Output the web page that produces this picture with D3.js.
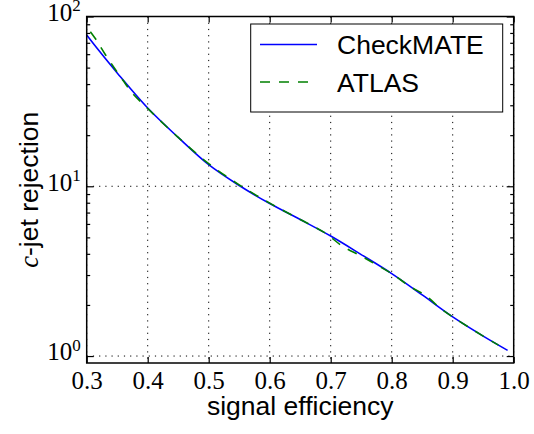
<!DOCTYPE html>
<html>
<head>
<meta charset="utf-8">
<script src="https://cdn.jsdelivr.net/npm/d3@7"></script>
<style>
  html, body { margin: 0; padding: 0; background: #fff; }
  svg { display: block; }
</style>
</head>
<body>
<svg id="chart" width="534" height="434"></svg>
<script>
// c-jet rejection versus signal efficiency for two taggers
const effCheckmate = [0.30, 0.32, 0.35, 0.40, 0.45, 0.50, 0.55, 0.60, 0.65, 0.70, 0.75, 0.80, 0.85, 0.90, 0.95, 0.99];
const rejCheckmate = [77.8, 63.0, 46.5, 28.9, 19.4, 13.4, 10.1, 7.91, 6.37, 5.09, 3.96, 3.06, 2.29, 1.70, 1.31, 1.08];

const effAtlas = [0.306, 0.315, 0.331, 0.36, 0.375, 0.40, 0.45, 0.50, 0.55, 0.60, 0.65, 0.69, 0.72, 0.75, 0.775, 0.80, 0.83, 0.855, 0.88, 0.90, 0.95, 0.975];
const rejAtlas = [81.4, 73.4, 59.3, 41.8, 35.3, 28.7, 19.4, 13.6, 10.2, 7.96, 6.37, 5.33, 4.42, 3.88, 3.45, 3.06, 2.57, 2.28, 1.91, 1.70, 1.31, 1.16];

const xTicks = [0.3, 0.4, 0.5, 0.6, 0.7, 0.8, 0.9, 1.0];
const yTicks = [1, 10, 100];
const yMinorTicks = [2, 3, 4, 5, 6, 7, 8, 9, 20, 30, 40, 50, 60, 70, 80, 90];

const seriesNames = ["CheckMATE", "ATLAS"];
const seriesColors = ["#0000ff", "#008000"];

const W = 534, H = 434;
const margin = { left: 86.7, right: 20.3, top: 16.5, bottom: 71 };
const iw = W - margin.left - margin.right;
const ih = H - margin.top - margin.bottom;

const svg = d3.select("#chart");
const g = svg.append("g").attr("transform", `translate(${margin.left},${margin.top})`);

const x = d3.scaleLinear().domain([0.3, 1.0]).range([0, iw]);
const y = d3.scaleLog().domain([0.91, 100]).range([ih, 0]);

const serif = "'Liberation Serif', 'Times New Roman', serif";
const sans = "'Liberation Sans', Arial, Helvetica, sans-serif";

// dotted grid at major ticks
const grid = g.append("g").attr("stroke", "#000").attr("stroke-width", 1)
  .attr("stroke-dasharray", "1.2,5").attr("fill", "none");
xTicks.forEach(t => grid.append("line")
  .attr("x1", x(t)).attr("x2", x(t)).attr("y1", 0).attr("y2", ih));
yTicks.forEach(t => grid.append("line")
  .attr("x1", 0).attr("x2", iw).attr("y1", y(t)).attr("y2", y(t)));

// curves
const series = [
  effCheckmate.map((e, i) => ({ e, r: rejCheckmate[i] })),
  effAtlas.map((e, i) => ({ e, r: rejAtlas[i] }))
];
const line = d3.line().x(d => x(d.e)).y(d => y(d.r)).curve(d3.curveCatmullRom.alpha(0.5));

g.append("path").datum(series[0])
  .attr("fill", "none").attr("stroke", seriesColors[0]).attr("stroke-width", 1.6)
  .attr("d", line);
g.append("path").datum(series[1])
  .attr("fill", "none").attr("stroke", seriesColors[1]).attr("stroke-width", 1.6)
  .attr("stroke-dasharray", "10,9")
  .attr("d", line);

// axes: ticks pointing inward on all four sides
function styleAxis(sel) {
  sel.select(".domain").remove();
  sel.selectAll(".tick line").attr("stroke", "#000").attr("stroke-width", 1.2);
}

const xAxisB = g.append("g").attr("transform", `translate(0,${ih})`)
  .call(d3.axisBottom(x).tickValues(xTicks).tickSizeInner(-6).tickSizeOuter(0)
    .tickPadding(8).tickFormat(d3.format(".1f")));
styleAxis(xAxisB);
xAxisB.selectAll(".tick text").attr("font-family", serif).attr("font-size", 25).attr("fill", "#000");

const xAxisT = g.append("g")
  .call(d3.axisTop(x).tickValues(xTicks).tickSizeInner(-6).tickSizeOuter(0).tickFormat(""));
styleAxis(xAxisT);

const yAxisL = g.append("g")
  .call(d3.axisLeft(y).tickValues(yTicks).tickSizeInner(-7).tickSizeOuter(0).tickPadding(6).tickFormat(""));
styleAxis(yAxisL);
yAxisL.selectAll(".tick text").each(function(d) {
  const t = d3.select(this).attr("font-family", serif).attr("fill", "#000").attr("dy", "0.38em");
  t.append("tspan").attr("font-size", 25).text("10");
  t.append("tspan").attr("font-size", 17).attr("dy", "-0.56em").text(Math.round(Math.log10(d)));
});

const yAxisLm = g.append("g")
  .call(d3.axisLeft(y).tickValues(yMinorTicks).tickSizeInner(-3.5).tickSizeOuter(0).tickFormat(""));
styleAxis(yAxisLm);

const yAxisR = g.append("g").attr("transform", `translate(${iw},0)`)
  .call(d3.axisRight(y).tickValues(yTicks).tickSizeInner(-7).tickSizeOuter(0).tickFormat(""));
styleAxis(yAxisR);
const yAxisRm = g.append("g").attr("transform", `translate(${iw},0)`)
  .call(d3.axisRight(y).tickValues(yMinorTicks).tickSizeInner(-3.5).tickSizeOuter(0).tickFormat(""));
styleAxis(yAxisRm);

// frame
g.append("rect").attr("x", 0).attr("y", 0).attr("width", iw).attr("height", ih)
  .attr("fill", "none").attr("stroke", "#000").attr("stroke-width", 1.5);

// axis labels
g.append("text")
  .attr("x", iw / 2).attr("y", ih + 52)
  .attr("text-anchor", "middle")
  .attr("font-family", sans).attr("font-size", 26.5).attr("fill", "#000")
  .text("signal efficiency");

const yl = svg.append("text")
  .attr("transform", `translate(38,${margin.top + ih / 2}) rotate(-90)`)
  .attr("text-anchor", "middle")
  .attr("font-family", sans).attr("font-size", 26.5).attr("fill", "#000");
yl.append("tspan").attr("font-family", serif).attr("font-style", "italic").text("c");
yl.append("tspan").text("-jet rejection");

// legend
const lg = svg.append("g");
lg.append("rect").attr("x", 250.7).attr("y", 24).attr("width", 252).attr("height", 88)
  .attr("fill", "#fff").attr("stroke", "#000").attr("stroke-width", 1);
seriesNames.forEach((name, i) => {
  const cy = 44.5 + i * 37.5;
  lg.append("line").attr("x1", 260).attr("x2", 317).attr("y1", cy).attr("y2", cy)
    .attr("stroke", seriesColors[i]).attr("stroke-width", 1.6)
    .attr("stroke-dasharray", i === 1 ? "10,9" : null);
  lg.append("text").attr("x", 337).attr("y", cy).attr("dy", "0.36em")
    .attr("font-family", sans).attr("font-size", 26.5).attr("fill", "#000")
    .text(name);
});
</script>
</body>
</html>
